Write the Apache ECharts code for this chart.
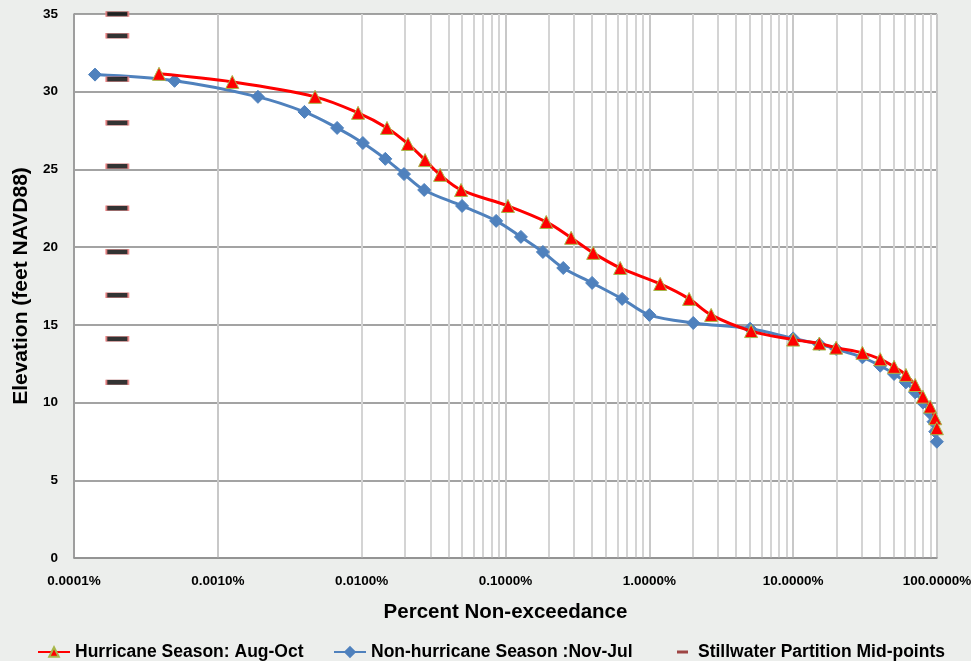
<!DOCTYPE html>
<html>
<head>
<meta charset="utf-8">
<script src="https://cdn.jsdelivr.net/npm/echarts@6/dist/echarts.min.js"></script>
<style>
  html, body { margin: 0; padding: 0; background: #eceeec; }
  #chart { width: 971px; height: 661px; }
</style>
</head>
<body>
<div id="chart"></div>
<script>
// Hurricane season (Aug-Oct): [percent non-exceedance, elevation ft]
var hurricane = [
    [0.00039, 31.15], [0.00126, 30.63], [0.00474, 29.67], [0.00944, 28.64],
    [0.0150, 27.67], [0.0210, 26.64], [0.0276, 25.6], [0.0351, 24.65],
    [0.0491, 23.68], [0.104, 22.65], [0.192, 21.62], [0.286, 20.6],
    [0.407, 19.63], [0.627, 18.66], [1.19, 17.63], [1.89, 16.67],
    [2.69, 15.64], [5.1, 14.6], [10, 14.05], [15.2, 13.8], [19.9, 13.53],
    [30.3, 13.2], [40.3, 12.79], [50.3, 12.3], [60.8, 11.78], [70.5, 11.13],
    [79.8, 10.38], [89.7, 9.74], [97.2, 8.99], [99.8, 8.35]
];

// Non-hurricane season (Nov-Jul)
var nonHurricane = [
    [0.00014, 31.1], [0.0005, 30.7], [0.0019, 29.67], [0.004, 28.7],
    [0.00675, 27.67], [0.0102, 26.7], [0.0146, 25.68], [0.0197, 24.7],
    [0.0272, 23.68], [0.0499, 22.65], [0.0861, 21.69], [0.128, 20.66],
    [0.182, 19.69], [0.252, 18.66], [0.40, 17.7], [0.647, 16.67],
    [1.0, 15.64], [2.02, 15.12], [5.02, 14.75], [10, 14.13], [15.2, 13.75],
    [19.9, 13.45], [30.3, 12.91], [40.3, 12.37], [50.3, 11.84], [60.8, 11.3],
    [70.5, 10.66], [79.8, 10.0], [89.7, 9.31], [94.6, 8.77], [97.2, 8.13],
    [99.8, 7.48]
];

// Stillwater partition mid-points (all plotted at 0.0002%)
var stillwaterX = 0.0002;
var stillwaterY = [35, 33.6, 30.8, 28.0, 25.2, 22.5, 19.7, 16.9, 14.1, 11.3];

var decades = [0.0001, 0.001, 0.01, 0.1, 1, 10];

var chart = echarts.init(document.getElementById('chart'));

// light log grid lines at 2..9 of each decade
var minorLines = [];
decades.forEach(function (d) {
    for (var k = 2; k <= 9; k++) {
        minorLines.push({ xAxis: d * k });
    }
});

var font = "'Liberation Sans', Arial, sans-serif";
var legendText = { fontSize: 17.5, fontWeight: 'bold', color: '#000', fontFamily: font };

var option = {
    backgroundColor: '#eceeec',
    animation: false,
    textStyle: { fontFamily: font },
    grid: {
        left: 74, right: 34, top: 14, bottom: 103,
        outerBoundsMode: 'none',
        containLabel: false,
        show: true, backgroundColor: '#ffffff', borderWidth: 0
    },
    legend: [
        {
            data: ['Hurricane Season: Aug-Oct'],
            left: 32, top: 638,
            itemWidth: 32, itemHeight: 12,
            textStyle: legendText
        },
        {
            data: ['Non-hurricane Season :Nov-Jul'],
            left: 328, top: 638,
            itemWidth: 32, itemHeight: 12,
            textStyle: legendText
        },
        {
            data: [{ name: 'Stillwater Partition Mid-points', icon: 'rect' }],
            left: 672, top: 638,
            itemWidth: 11, itemHeight: 3,
            itemStyle: { color: '#8b1a1a', borderWidth: 0 },
            textStyle: Object.assign({ padding: [0, 0, 0, 5] }, legendText)
        }
    ],
    xAxis: {
        type: 'log',
        logBase: 10,
        min: 0.0001,
        max: 100,
        name: 'Percent Non-exceedance',
        nameLocation: 'middle',
        nameGap: 44,
        nameTextStyle: { fontSize: 20.5, fontWeight: 'bold', color: '#000' },
        axisLine: { show: true, lineStyle: { color: '#909090', width: 1.5 } },
        axisTick: { show: false },
        axisLabel: {
            margin: 16,
            fontSize: 13.5,
            fontWeight: 'bold',
            color: '#000',
            formatter: function (v) { return v.toFixed(4) + '%'; }
        },
        splitLine: { show: true, lineStyle: { color: '#c8c8c8', width: 2 } }
    },
    yAxis: {
        type: 'value',
        min: 0,
        max: 35,
        interval: 5,
        name: 'Elevation (feet NAVD88)',
        nameLocation: 'middle',
        nameGap: 40,
        nameTextStyle: { fontSize: 21, fontWeight: 'bold', color: '#000' },
        axisLine: { show: true, lineStyle: { color: '#909090', width: 1.5 } },
        axisTick: { show: false },
        axisLabel: { margin: 16, fontSize: 13.5, fontWeight: 'bold', color: '#000' },
        splitLine: { show: true, lineStyle: { color: '#858585', width: 1.5 } }
    },
    series: [
        {
            name: 'grid-minor',
            type: 'line',
            data: [],
            silent: true,
            z: 0,
            markLine: {
                silent: true,
                z: 0,
                symbol: 'none',
                label: { show: false },
                lineStyle: { color: '#d4d4d4', width: 2, type: 'solid' },
                data: minorLines
            }
        },
        {
            name: 'Non-hurricane Season :Nov-Jul',
            type: 'line',
            data: nonHurricane,
            smooth: 0.35,
            symbol: 'diamond',
            symbolSize: 13,
            lineStyle: { color: '#4f81bd', width: 3 },
            itemStyle: { color: '#4f81bd', borderColor: '#4f81bd', borderWidth: 1 },
            z: 3
        },
        {
            name: 'Hurricane Season: Aug-Oct',
            type: 'line',
            data: hurricane,
            smooth: 0.35,
            symbol: 'triangle',
            symbolSize: 13,
            lineStyle: { color: '#ff0000', width: 3 },
            itemStyle: { color: '#ff0000', borderColor: '#a8b84a', borderWidth: 1 },
            z: 4
        },
        {
            name: 'Stillwater Partition Mid-points',
            type: 'scatter',
            data: stillwaterY.map(function (y) { return [stillwaterX, y]; }),
            symbol: 'rect',
            symbolSize: [22, 5],
            itemStyle: { color: '#000000', borderColor: '#f08080', borderWidth: 1 },
            clip: false,
            z: 5
        }
    ]
};

chart.setOption(option);
</script>
</body>
</html>
